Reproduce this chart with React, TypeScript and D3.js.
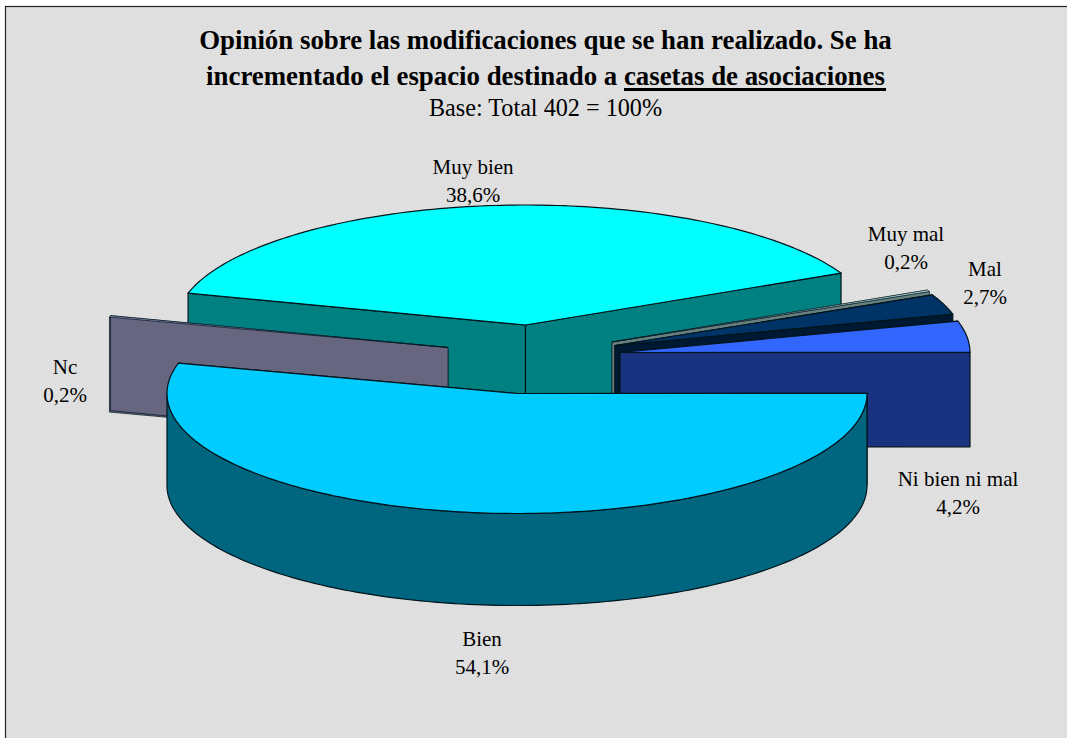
import React from "react";
import * as d3 from "d3";

const categories = ["Muy bien", "Muy mal", "Mal", "Ni bien ni mal", "Bien", "Nc"];
const values = [38.6, 0.2, 2.7, 4.2, 54.1, 0.2];
const valueLabels = ["38,6%", "0,2%", "2,7%", "4,2%", "54,1%", "0,2%"];
const topColors = ["#00ffff", "#ccffff", "#003366", "#3366ff", "#00ccff", "#9999cc"];
const wallColors = ["#008080", "#668080", "#001933", "#1a3380", "#006680", "#666680"];
const centers: [number, number][] = [[525.5, 325], [612, 342], [615, 345.5], [620, 352.5], [517, 393.5], [448, 347.5]];
const depths = [95, 95, 95, 94.5, 92, 95];
const labelPos: [number, number][] = [[473, 174], [906, 241], [985, 276], [958, 486], [482, 646], [65, 374]];
const titleLines = ["Opinión sobre las modificaciones que se han realizado. Se ha", "incrementado el espacio destinado a "];
const titleUnderlined = "casetas de asociaciones";
const subtitle = "Base: Total 402 = 100%";

const W = 1067, H = 738;
const RX = 350, RY = 120;
const START = (-74.6 * Math.PI) / 180;

const arcs = d3.pie<number>().sort(null).startAngle(START).endAngle(START + 2 * Math.PI)(values);
const sx = d3.scaleLinear().domain([-1, 1]).range([-RX, RX]);
const sy = d3.scaleLinear().domain([-1, 1]).range([RY, -RY]);
const line = d3.line<[number, number]>();

function rim(i: number, a0: number, a1: number, dy = 0): [number, number][] {
  const [cx, cy] = centers[i];
  const n = Math.max(2, Math.ceil(Math.abs(a1 - a0) / 0.02));
  return d3.range(n + 1).map((k) => {
    const t = a0 + ((a1 - a0) * k) / n;
    return [cx + sx(Math.sin(t)), cy + sy(Math.cos(t)) + dy] as [number, number];
  });
}

function topPath(i: number) {
  const { startAngle, endAngle } = arcs[i];
  return line([centers[i], ...rim(i, startAngle, endAngle)]) + "Z";
}
function sidePath(i: number, a: number) {
  const [cx, cy] = centers[i];
  const [p] = rim(i, a, a);
  return line([[cx, cy], p, [p[0], p[1] + depths[i]], [cx, cy + depths[i]]]) + "Z";
}
function outerPath(i: number) {
  const a0 = Math.max(arcs[i].startAngle, Math.PI / 2);
  const a1 = Math.min(arcs[i].endAngle, (3 * Math.PI) / 2);
  if (a1 <= a0) return null;
  return line([...rim(i, a0, a1), ...rim(i, a1, a0, depths[i])]) + "Z";
}

const stroke = "#00141c";
const order = [0, 5, 1, 2, 3, 4];

function Slice({ i }: { i: number }) {
  const outer = outerPath(i);
  const thin = values[i] < 1;
  const sw = thin ? 0.7 : 1.2;
  const common = { fill: wallColors[i], stroke, strokeWidth: sw, strokeLinejoin: "round" as const };
  return (
    <g>
      <path d={sidePath(i, arcs[i].startAngle)} {...common} />
      <path d={sidePath(i, arcs[i].endAngle)} {...common} />
      {outer && <path d={outer} {...common} />}
      <path d={topPath(i)} fill={topColors[i]} stroke={stroke} strokeWidth={sw} strokeLinejoin="round" />
    </g>
  );
}

export default function App() {
  return (
    <svg width={W} height={H} style={{ position: "absolute", left: 0, top: 0, display: "block" }} fontFamily="'Liberation Serif', serif">
      <defs>
        <pattern id="bg" width={4} height={4} patternUnits="userSpaceOnUse">
          <rect width={4} height={4} fill="#dedede" />
          <rect width={1} height={1} fill="#e8e8e8" />
          <rect x={2} y={2} width={1} height={1} fill="#e8e8e8" />
        </pattern>
      </defs>
      <rect width={W} height={H} fill="#ffffff" />
      <rect x={5.5} y={6.5} width={W + 20} height={H + 20} fill="url(#bg)" stroke="#222" strokeWidth={1.2} />
      <g textAnchor="middle" fill="#000">
        <text x={545.5} y={49} fontSize={26.85} fontWeight="bold">{titleLines[0]}</text>
        <text x={545.5} y={84.5} fontSize={26.85} fontWeight="bold">
          {titleLines[1]}
          <tspan>{titleUnderlined}</tspan>
        </text>
        <line x1={624} x2={886} y1={89.5} y2={89.5} stroke="#000" strokeWidth={3} />
        <text x={545.5} y={116} fontSize={24.2}>{subtitle}</text>
      </g>
      {order.map((i) => <Slice key={i} i={i} />)}
      <g textAnchor="middle" fill="#000" fontSize={21}>
        {categories.map((c, i) => (
          <text key={c} x={labelPos[i][0]} y={labelPos[i][1]}>
            <tspan x={labelPos[i][0]}>{c}</tspan>
            <tspan x={labelPos[i][0]} dy={28}>{valueLabels[i]}</tspan>
          </text>
        ))}
      </g>
    </svg>
  );
}
